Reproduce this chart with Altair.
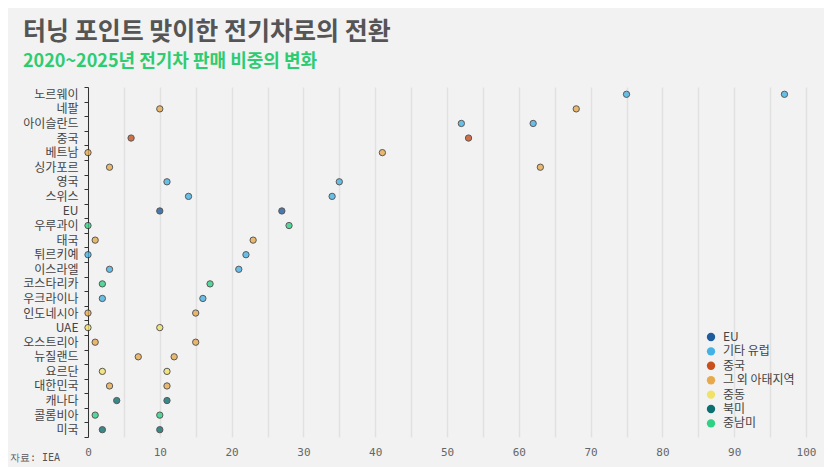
import altair as alt
import pandas as pd

countries = ["노르웨이", "네팔", "아이슬란드", "중국", "베트남", "싱가포르", "영국", "스위스", "EU",
             "우루과이", "태국", "튀르키예", "이스라엘", "코스타리카", "우크라이나", "인도네시아", "UAE",
             "오스트리아", "뉴질랜드", "요르단", "대한민국", "캐나다", "콜롬비아", "미국"]
regions = ["기타 유럽", "그 외 아태지역", "기타 유럽", "중국", "그 외 아태지역", "그 외 아태지역", "기타 유럽",
           "기타 유럽", "EU", "중남미", "그 외 아태지역", "기타 유럽", "기타 유럽", "중남미", "기타 유럽",
           "그 외 아태지역", "중동", "그 외 아태지역", "그 외 아태지역", "중동", "그 외 아태지역", "북미",
           "중남미", "북미"]
share_2020 = [75, 10, 52, 6, 0, 3, 11, 14, 10, 0, 1, 0, 3, 2, 2, 0, 0, 1, 7, 2, 3, 4, 1, 2]
share_2025 = [97, 68, 62, 53, 41, 63, 35, 34, 27, 28, 23, 22, 21, 17, 16, 15, 10, 15, 12, 11, 11, 11, 10, 10]

legend_order = ["EU", "기타 유럽", "중국", "그 외 아태지역", "중동", "북미", "중남미"]
legend_colors = ["#1f5c9e", "#45b2e6", "#c8501c", "#e8a94c", "#f0e266", "#0d7070", "#2fd184"]

rows = []
for c, r, a, b in zip(countries, regions, share_2020, share_2025):
    rows.append({"국가": c, "지역": r, "연도": "2020", "비중": a})
    rows.append({"국가": c, "지역": r, "연도": "2025", "비중": b})
df = pd.DataFrame(rows)

KFONT = "Noto Sans CJK KR"

points = alt.Chart(df).mark_circle(size=40, stroke="#333333", strokeWidth=1, opacity=0.8).encode(
    x=alt.X("비중:Q", scale=alt.Scale(domain=[0, 100], nice=False),
            axis=alt.Axis(title=None, values=list(range(0, 101, 5)),
                          labelExpr="datum.value % 10 == 0 ? datum.label : ''",
                          domain=False, ticks=False, grid=True, gridColor="#e1e1e1", gridWidth=1.5,
                          labelFont="DejaVu Sans Mono", labelFontSize=11, labelColor="#666666",
                          labelPadding=9, labelFlush=False)),
    y=alt.Y("국가:N", sort=countries, scale=alt.Scale(type="band", paddingInner=0, paddingOuter=0),
            axis=alt.Axis(title=None, tickBand="extent", domainColor="#333333", tickColor="#333333",
                          tickSize=4, labelFont=KFONT, labelFontSize=12, labelColor="#444444",
                          labelPadding=6, grid=False)),
    color=alt.Color("지역:N", scale=alt.Scale(domain=legend_order, range=legend_colors),
                    legend=alt.Legend(title=None, orient="none", legendX=617, legendY=244,
                                      symbolType="circle", symbolSize=70, symbolOpacity=1,
                                      symbolStrokeWidth=0, labelFont=KFONT, labelFontSize=12,
                                      labelColor="#444444", rowPadding=2.4, labelOffset=6)),
)

source = alt.Chart(pd.DataFrame({"t": ["자료: IEA"]})).mark_text(
    align="left", baseline="middle", font="DejaVu Sans Mono", fontSize=10, color="#555555"
).encode(text="t:N", x=alt.value(-78), y=alt.value(371))

chart = alt.layer(points, source).properties(
    width=718, height=350,
    autosize=alt.AutoSizeParams(type="none"),
    padding={"left": 80, "top": 79, "right": 18, "bottom": 30},
    title=alt.TitleParams(
        text="터닝 포인트 맞이한 전기차로의 전환",
        subtitle="2020~2025년 전기차 판매 비중의 변화",
        anchor="start", frame="group", dx=-65, offset=10,
        font=KFONT, fontSize=25, fontWeight="bold", color="#555555",
        subtitleFont=KFONT, subtitleFontSize=18, subtitleFontWeight="bold",
        subtitleColor="#2ecc71", subtitlePadding=8,
    ),
).configure(background="#f2f2f2").configure_view(stroke=None)

chart.save("out.html", embed_options={"renderer": "svg", "actions": False})
